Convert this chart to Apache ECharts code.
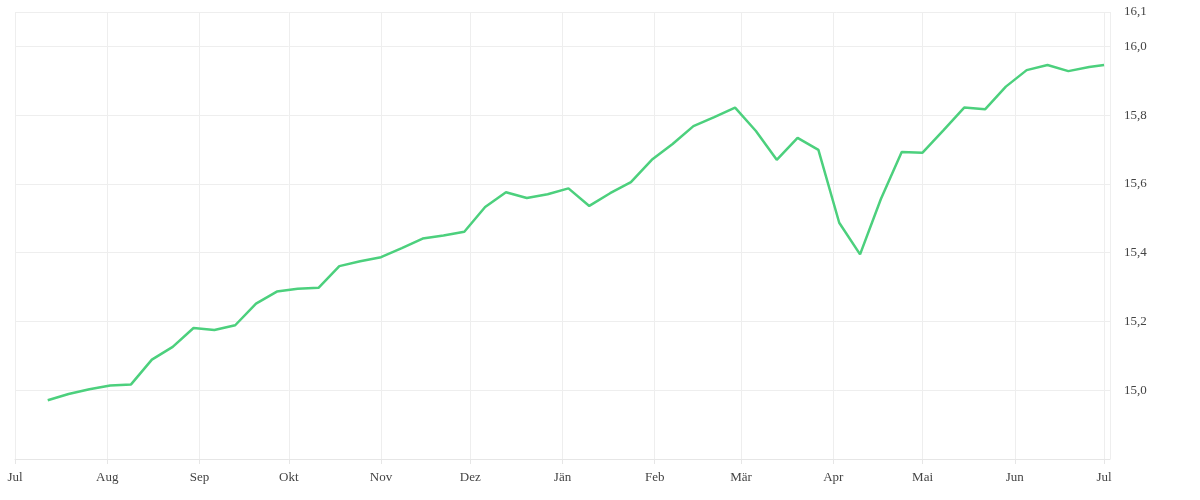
<!DOCTYPE html><html><head><meta charset="utf-8"><script src="https://cdn.jsdelivr.net/npm/echarts@6/dist/echarts.min.js"></script>
<style>html,body{margin:0;background:#fff}#c{width:1200px;height:500px}</style></head><body><div id="c"></div>
<script>
const dates=["2019-07-12","2019-07-19","2019-07-26","2019-08-02","2019-08-09","2019-08-16","2019-08-23","2019-08-30","2019-09-06","2019-09-13","2019-09-20","2019-09-27","2019-10-04","2019-10-11","2019-10-18","2019-10-25","2019-11-01","2019-11-08","2019-11-15","2019-11-22","2019-11-29","2019-12-06","2019-12-13","2019-12-20","2019-12-27","2020-01-03","2020-01-10","2020-01-17","2020-01-24","2020-01-31","2020-02-07","2020-02-14","2020-02-21","2020-02-28","2020-03-06","2020-03-13","2020-03-20","2020-03-27","2020-04-03","2020-04-10","2020-04-17","2020-04-24","2020-05-01","2020-05-08","2020-05-15","2020-05-22","2020-05-29","2020-06-05","2020-06-12","2020-06-19","2020-06-26","2020-07-01"];
const values=[14.971,14.989,15.003,15.014,15.017,15.089,15.126,15.181,15.175,15.189,15.252,15.287,15.295,15.298,15.361,15.375,15.387,15.413,15.441,15.450,15.461,15.533,15.576,15.559,15.570,15.587,15.536,15.573,15.605,15.670,15.716,15.768,15.794,15.822,15.754,15.670,15.734,15.699,15.487,15.395,15.556,15.693,15.691,15.756,15.822,15.817,15.883,15.931,15.946,15.928,15.940,15.946];
const monthNames=["Jän","Feb","Mär","Apr","Mai","Jun","Jul","Aug","Sep","Okt","Nov","Dez"];
const ch=echarts.init(document.getElementById('c'));
const font="Liberation Serif";
ch.setOption({animation:false,
grid:{left:15,right:90,top:12,bottom:41},
xAxis:{type:'time',min:+new Date('2019-07-01'),max:+new Date('2020-07-03'),splitNumber:12,
 axisLine:{show:true,lineStyle:{color:'#e6e6e6'}},axisTick:{show:true,lineStyle:{color:'#e6e6e6'}},
 splitLine:{show:true,lineStyle:{color:'#eeeeee'}},
 axisLabel:{color:'#444',fontFamily:font,fontSize:13,margin:12,hideOverlap:true,
  formatter:v=>{const d=new Date(v);return d.getDate()===1?monthNames[d.getMonth()]:'';}}},
yAxis:{type:'value',position:'right',min:14.8,max:16.1,interval:0.2,
 axisLine:{show:false},axisTick:{show:false},
 splitLine:{lineStyle:{color:'#eeeeee'}},
 axisLabel:{color:'#444',fontFamily:font,fontSize:13,margin:14,
  formatter:v=>(Math.abs(v-14.8)<1e-6)?'':v.toFixed(1).replace('.',',')}},
series:[{type:'line',data:dates.map((d,i)=>[d,values[i]]),showSymbol:false,
 lineStyle:{color:'#4cd07d',width:2.5},itemStyle:{color:'#4cd07d'}}]});
</script></body></html>
